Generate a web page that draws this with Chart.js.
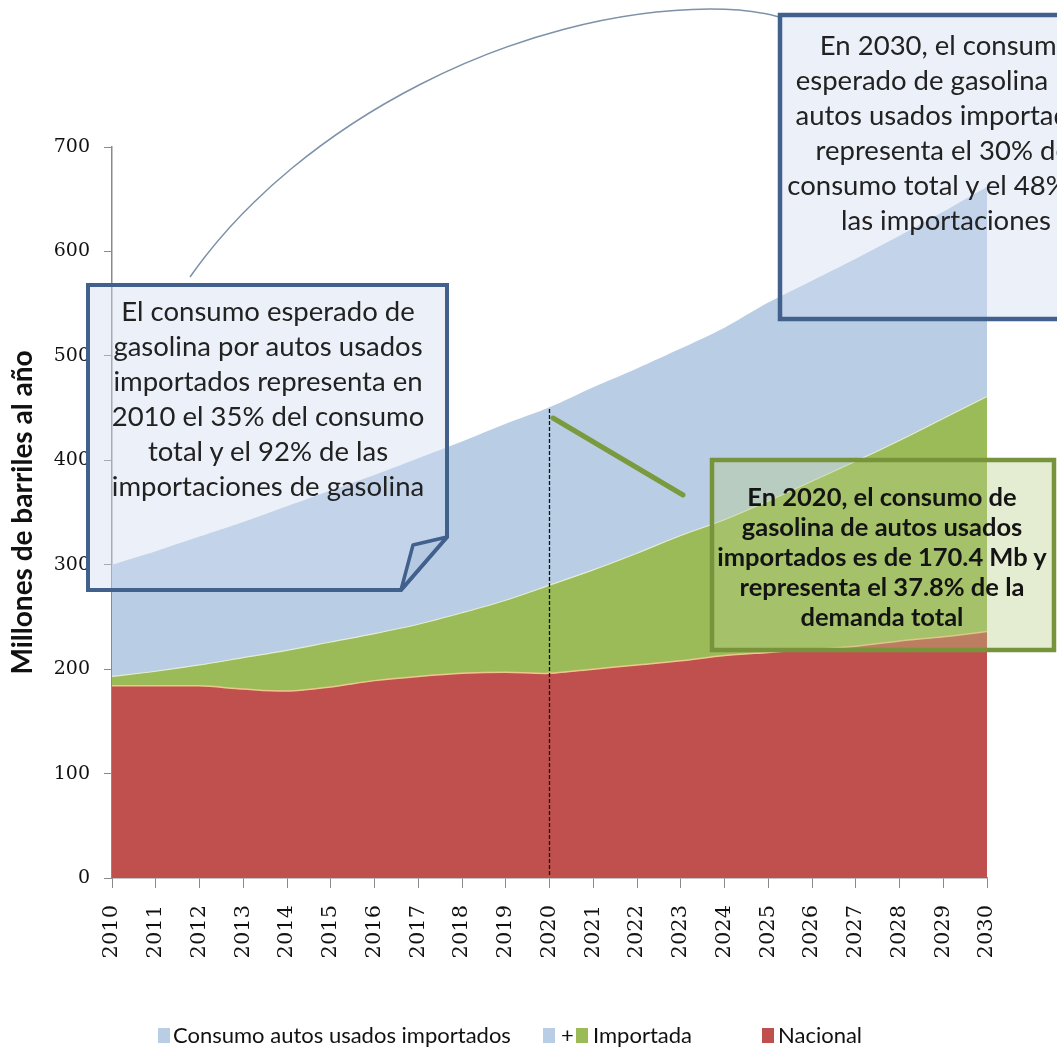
<!DOCTYPE html>
<html lang="es">
<head>
<meta charset="utf-8">
<title>Consumo de gasolina 2010-2030</title>
<script src="https://cdn.jsdelivr.net/npm/chart.js@4.4.1/dist/chart.umd.min.js"></script>
<style>
  html, body { margin: 0; padding: 0; background: #fff; }
  body { width: 1057px; height: 1060px; position: relative; overflow: hidden; font-family: Lato, "Open Sans", sans-serif; }
  #chart { position: absolute; left: 0; top: 0; }
  #shapes { position: absolute; left: 0; top: 0; pointer-events: none; }
  .note { position: absolute; text-align: center; color: #222; white-space: nowrap; }
  .note-blue { font-size: 27.5px; line-height: 35px; }
  .note-green { font-size: 25.5px; line-height: 30px; font-weight: bold; color: #141414; }
  .sw { position: absolute; top: 1028px; width: 12px; height: 15px; }
  .lt { position: absolute; top: 1021px; font-size: 22px; line-height: 28px; color: #111; white-space: nowrap; }
</style>
</head>
<body>
<canvas id="chart" width="1057" height="1060"></canvas>

<svg id="shapes" width="1057" height="1060">
  <!-- connector from the 2010 note to the 2030 note -->
  <path d="M190,277 C300,120 520,10 710,9 C745,9 765,13 779,17" fill="none" stroke="#7d91a8" stroke-width="1.5"/>
  <!-- 2010 note with folded corner -->
  <path d="M88,285 L447,285 L447,537 L401,590 L88,590 Z" fill="rgba(209,221,240,0.41)" stroke="#41618c" stroke-width="4" stroke-linejoin="miter"/>
  <path d="M447,537 L413,545 L401,590 Z" fill="rgba(175,196,224,0.7)" stroke="#41618c" stroke-width="3.5" stroke-linejoin="round"/>
  <!-- 2030 note -->
  <rect x="780" y="15" width="300" height="304" fill="rgba(209,221,240,0.41)" stroke="#41618c" stroke-width="4.5"/>
  <!-- 2020 note and its pointer -->
  <line x1="553" y1="418" x2="683" y2="495" stroke="#7a9a3e" stroke-width="5" stroke-linecap="round"/>
  <rect x="712" y="460" width="342" height="190" fill="rgba(182,204,133,0.37)" stroke="#77933c" stroke-width="4.5"/>
</svg>

<div class="note note-blue" style="left:88px; top:293px; width:360px;">
  El consumo esperado de<br>gasolina por autos usados<br>importados representa en<br>2010 el 35% del consumo<br>total y el 92% de las<br>importaciones de gasolina
</div>
<div class="note note-blue" style="left:736px; top:27px; width:420px;">
  En 2030, el consumo<br>esperado de gasolina por<br>autos usados importados<br>representa el 30% del<br>consumo total y el 48% de<br>las importaciones
</div>
<div class="note note-green" style="left:692px; top:481px; width:380px;">
  En 2020, el consumo de<br>gasolina de autos usados<br>importados es de 170.4 Mb y<br>representa el 37.8% de la<br>demanda total
</div>

<span class="sw" style="left:158px; background:#b9cde5;"></span>
<span class="lt" style="left:173px;">Consumo autos usados importados</span>
<span class="sw" style="left:543px; background:#b9cde5;"></span>
<span class="lt" style="left:561px;">+</span>
<span class="sw" style="left:576px; background:#9bbb59;"></span>
<span class="lt" style="left:593px;">Importada</span>
<span class="sw" style="left:762px; background:#c0504d;"></span>
<span class="lt" style="left:778px;">Nacional</span>

<script>
// Millones de barriles al año, escenario 2010-2030
const years = ['2010', '2011', '2012', '2013', '2014', '2015', '2016', '2017', '2018', '2019', '2020',
               '2021', '2022', '2023', '2024', '2025', '2026', '2027', '2028', '2029', '2030'];
const nacional = [184, 184, 184, 181, 179, 183, 189, 193, 196, 197, 196,
                  200, 204, 208, 213, 216, 219, 222, 227, 231, 236];
const importada = [9, 14, 20, 30, 39, 43, 45, 50, 58, 69, 84.4,
                   95, 107, 120, 130, 145, 161, 177, 192, 209, 225];
const autosUsados = [107, 115, 123, 130, 138, 145, 152, 159, 164, 169, 170.4,
                     175, 177, 179, 184, 190, 192, 194, 196, 198, 201];
const yTicks = [0, 100, 200, 300, 400, 500, 600, 700];

// vertical dashed marker at 2020, from the axis up to the top of the stack
const marker2020 = {
    id: 'marker2020',
    afterDatasetsDraw(chart) {
        const i = years.indexOf('2020');
        const x = chart.scales.x.getPixelForValue(i);
        const total = nacional[i] + importada[i] + autosUsados[i];
        const ctx = chart.ctx;
        ctx.save();
        ctx.strokeStyle = '#111';
        ctx.lineWidth = 1.3;
        ctx.setLineDash([4, 2]);
        ctx.beginPath();
        ctx.moveTo(x, chart.scales.y.getPixelForValue(0) - 3);
        ctx.lineTo(x, chart.scales.y.getPixelForValue(total));
        ctx.stroke();
        ctx.restore();
    }
};

const ctx = document.getElementById('chart').getContext('2d');
new Chart(ctx, {
    type: 'line',
    data: {
        labels: years,
        datasets: [
            {
                label: 'Nacional',
                data: nacional,
                fill: 'origin',
                backgroundColor: '#c0504d',
                borderColor: '#efc78e',
                borderWidth: 1.5,
                pointRadius: 0,
                tension: 0.3
            },
            {
                label: 'Importada',
                data: importada,
                fill: '-1',
                backgroundColor: '#9bbb59',
                borderColor: 'rgba(232,240,214,0.9)',
                borderWidth: 1.2,
                pointRadius: 0,
                tension: 0.3
            },
            {
                label: 'Consumo autos usados importados',
                data: autosUsados,
                fill: '-1',
                backgroundColor: '#b9cde5',
                borderColor: '#b9cde5',
                borderWidth: 0,
                pointRadius: 0,
                tension: 0.3
            }
        ]
    },
    options: {
        responsive: false,
        animation: false,
        layout: { padding: { top: 147, right: 70, bottom: 62, left: 0 } },
        plugins: {
            legend: { display: false },
            tooltip: { enabled: false }
        },
        scales: {
            x: {
                afterFit: scale => { scale.height = 120; },
                grid: { drawOnChartArea: false, drawTicks: true, tickLength: 10, color: '#8a8a8a' },
                border: { color: '#8a8a8a', width: 1.5 },
                ticks: {
                    autoSkip: false,
                    minRotation: 90,
                    maxRotation: 90,
                    padding: 17,
                    color: '#111',
                    font: { family: 'DejaVu Serif', size: 21 }
                }
            },
            y: {
                stacked: true,
                min: 0,
                max: 700,
                afterFit: scale => { scale.width = 112; },
                afterBuildTicks: scale => { scale.ticks = yTicks.map(v => ({ value: v })); },
                grid: { drawOnChartArea: false, drawTicks: true, tickLength: 8, color: '#8a8a8a' },
                border: { color: '#8a8a8a', width: 1.5 },
                ticks: {
                    padding: 14,
                    color: '#111',
                    font: { family: 'DejaVu Serif', size: 19 }
                },
                title: {
                    display: true,
                    text: 'Millones de barriles al año',
                    color: '#111',
                    padding: { top: 6, bottom: 0 },
                    font: { family: 'Lato', size: 28, weight: 'bold' }
                }
            }
        }
    },
    plugins: [marker2020]
});
</script>
</body>
</html>
